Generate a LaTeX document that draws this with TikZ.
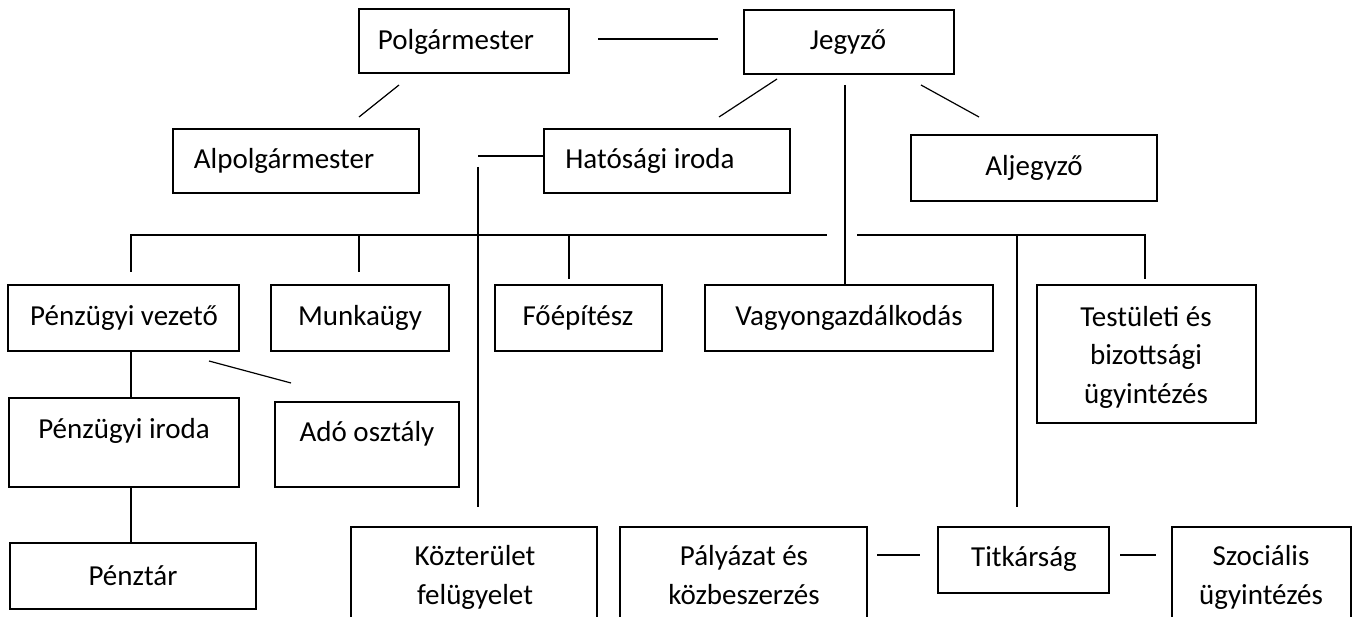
\documentclass[tikz,border=0pt]{standalone}
\usepackage{fontspec}
\setmainfont{Carlito}
\usetikzlibrary{fit}
\begin{document}
\begin{tikzpicture}[x=1pt,y=-1pt,
  box/.style={draw, line width=1.3pt, inner sep=0pt, rectangle},
  lbl/.style={anchor=base, inner sep=0pt, font=\fontsize{29}{38.5}\selectfont, align=center},
  conn/.style={line width=1.2pt}]
\useasboundingbox (0,0) rectangle (1360,617);
\clip (0,0) rectangle (1360,617);
% boxes (multi-line labels are placed by the baseline of their last line)
\node[box, fit={(359,9) (569,73)}] (polg) {};
\node[lbl] at (456,50) {Polgármester};
\node[box, fit={(744,10) (954,74)}] (jeg) {};
\node[lbl] at (848,50) {Jegyző};
\node[box, fit={(173,129) (419,193)}] (alpol) {};
\node[lbl] at (284,169) {Alpolgármester};
\node[box, fit={(544,129) (790,193)}] (hat) {};
\node[lbl] at (650,169) {Hatósági iroda};
\node[box, fit={(911,135) (1157,201)}] (aljeg) {};
\node[lbl] at (1034,176) {Aljegyző};
\node[box, fit={(8,285) (239,351)}] (pvez) {};
\node[lbl] at (124,326) {Pénzügyi vezető};
\node[box, fit={(271,285) (449,351)}] (munka) {};
\node[lbl] at (360,326) {Munkaügy};
\node[box, fit={(495,285) (662,351)}] (foep) {};
\node[lbl] at (578,326) {Főépítész};
\node[box, fit={(705,285) (993,351)}] (vagy) {};
\node[lbl] at (849,326) {Vagyongazdálkodás};
\node[box, fit={(1037,285) (1256,423)}] (test) {};
\node[lbl] at (1146,403) {Testületi és\\bizottsági\\ügyintézés};
\node[box, fit={(9,398) (239,487)}] (piroda) {};
\node[lbl] at (124,438) {Pénzügyi iroda};
\node[box, fit={(275,402) (459,487)}] (ado) {};
\node[lbl] at (367,441) {Adó osztály};
\node[box, fit={(10,543) (256,609)}] (penztar) {};
\node[lbl] at (133,585) {Pénztár};
\node[box, fit={(351,527) (597,650)}] (kozt) {};
\node[lbl] at (475,604) {Közterület\\felügyelet};
\node[box, fit={(620,527) (867,650)}] (paly) {};
\node[lbl] at (744,604) {Pályázat és\\közbeszerzés};
\node[box, fit={(938,527) (1109,593)}] (titk) {};
\node[lbl] at (1024,566) {Titkárság};
\node[box, fit={(1172,527) (1351,650)}] (szoc) {};
\node[lbl] at (1261,604) {Szociális\\ügyintézés};
% connector end points
\coordinate (pj1) at (598,39);  \coordinate (pj2) at (718,39);
\coordinate (pa1) at (399,85);  \coordinate (pa2) at (359,117);
\coordinate (jh1) at (777,79);  \coordinate (jh2) at (719,117);
\coordinate (ja1) at (921,85);  \coordinate (ja2) at (979,117);
\coordinate (jv1) at (845,85);
\coordinate (hl) at (478,156);
\coordinate (hv1) at (478,167); \coordinate (hv2) at (478,507);
\coordinate (bl1) at (131,235); \coordinate (bl2) at (827,235);
\coordinate (br1) at (857,235); \coordinate (br2) at (1145,235);
\coordinate (d1) at (131,272); \coordinate (d2) at (359,272);
\coordinate (d3) at (569,279); \coordinate (d5) at (1145,279);
\coordinate (tv1) at (1017,235); \coordinate (tv2) at (1017,507);
\coordinate (pa3) at (209,361); \coordinate (pa4) at (291,383);
\coordinate (pt1) at (877,555); \coordinate (pt2) at (920,555);
\coordinate (ts1) at (1120,555); \coordinate (ts2) at (1156,555);
% connectors
\draw[conn] (pj1) -- (pj2);
\draw[conn] (pa1) -- (pa2);
\draw[conn] (jh1) -- (jh2);
\draw[conn] (ja1) -- (ja2);
\draw[conn] (jv1) -- (jv1 |- vagy.north);
\draw[conn] (hl) -- (hl -| hat.west);
\draw[conn] (hv1) -- (hv2);
\draw[conn] (d1) -- (bl1) -- (bl2);
\draw[conn] (d2) -- (d2 |- bl1);
\draw[conn] (d3) -- (d3 |- bl1);
\draw[conn] (br1) -- (br2) -- (d5);
\draw[conn] (tv1) -- (tv2);
\draw[conn] (pvez.south -| d1) -- (piroda.north -| d1);
\draw[conn] (pa3) -- (pa4);
\draw[conn] (piroda.south -| d1) -- (penztar.north -| d1);
\draw[conn] (pt1) -- (pt2);
\draw[conn] (ts1) -- (ts2);
\end{tikzpicture}
\end{document}
